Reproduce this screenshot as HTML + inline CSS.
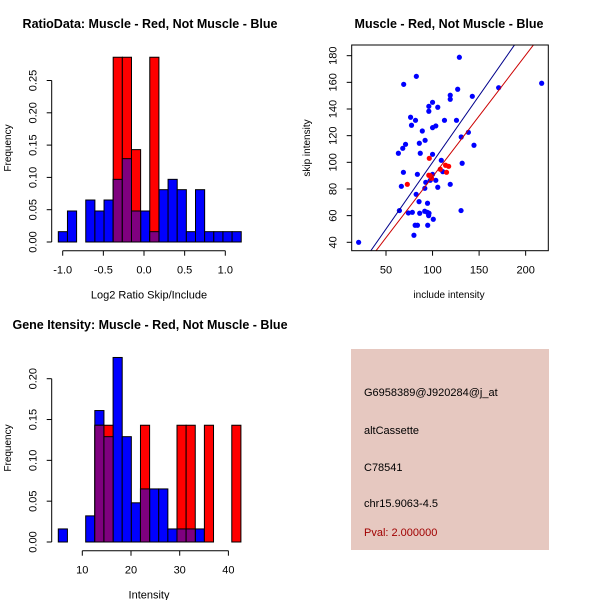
<!DOCTYPE html>
<html><head><meta charset="utf-8"><style>
body{margin:0;background:#fff}
svg{display:block;font-family:"Liberation Sans",sans-serif}
</style></head><body>
<svg id="chart" width="600" height="600" viewBox="0 0 600 600">
<rect x="0" y="0" width="600" height="600" fill="#fff"/>
<text x="150" y="28" text-anchor="middle" font-size="12.5" font-weight="bold">RatioData: Muscle - Red, Not Muscle - Blue</text>
<text x="449" y="28" text-anchor="middle" font-size="12.5" font-weight="bold">Muscle - Red, Not Muscle - Blue</text>
<text x="150" y="329" text-anchor="middle" font-size="12.5" font-weight="bold">Gene Itensity: Muscle - Red, Not Muscle - Blue</text>
<g id="p1"></g>
<g id="p2"></g>
<g id="p3"></g>
<g>
<rect x="351" y="349" width="198" height="201" fill="#e6c8c0"/>
<text x="364" y="396" font-size="11">G6958389@J920284@j_at</text>
<text x="364" y="434" font-size="11">altCassette</text>
<text x="364" y="471" font-size="11">C78541</text>
<text x="364" y="507" font-size="11">chr15.9063-4.5</text>
<text x="364" y="536" font-size="11" fill="#a00000">Pval: 2.000000</text>
</g>
</svg>
<script>
// Ratio histogram data
const ratioBinStart = -1.054;
const ratioBinWidth = 0.1125;
const ratioBlue = [0.016,0.048,0,0.065,0.048,0.065,0.097,0.129,0.048,0.048,0.016,0.081,0.097,0.081,0.016,0.081,0.016,0.016,0.016,0.016];
const ratioRed  = [0,0,0,0,0,0,0.286,0.286,0.143,0,0.286,0,0,0,0,0,0,0,0,0];
const ratioXTicks = [-1.0,-0.5,0.0,0.5,1.0];
const ratioXLabels = ["-1.0","-0.5","0.0","0.5","1.0"];
const ratioYTicks = [0,0.05,0.10,0.15,0.20,0.25];
const ratioYLabels = ["0.00","0.05","0.10","0.15","0.20","0.25"];
// Intensity histogram data
const intBinStart = 5.07;
const intBinWidth = 1.875;
const intBlue = [0.016,0,0,0.032,0.161,0.129,0.226,0.129,0.048,0.065,0.065,0.065,0.016,0.016,0.016,0.016,0,0,0,0];
const intRed  = [0,0,0,0,0.143,0.143,0,0,0,0.143,0,0,0,0.143,0.143,0,0.143,0,0,0.143];
const intXTicks = [10,20,30,40];
const intXLabels = ["10","20","30","40"];
const intYTicks = [0,0.05,0.10,0.15,0.20];
const intYLabels = ["0.00","0.05","0.10","0.15","0.20"];
// Scatter data
const blueX = [20.6,82.6,69,128.8,217.2,171,127,142.7,119,119,96,100,105.6,96,76.4,81.7,112.8,125.7,77.4,103.5,100,89,130.8,138.5,92,85.8,71,68,144.5,63.3,86.8,100,109.4,131.8,68.7,83.7,100,111,97.5,103.5,92.7,105.6,66.5,119,91.7,82.4,85.5,94.6,64.4,74,78.3,86.2,91.6,94.4,96.2,95.8,100.8,130.6,81.3,83.8,94.8,80];
const blueY = [40,164.5,158.5,178.8,159.3,156,154.8,149.5,150.3,147.3,142,145,141.3,138.3,133.8,131.5,131.5,131.5,127.8,127.3,126,123.5,119,122.5,116.5,114.3,113.5,110.5,112.8,106.8,106.8,106,101.5,99.3,92.5,91,91,93,86.5,86.5,85,81.3,82,83.5,80.5,76,70.5,69.3,63.8,62,62.5,61.8,63.3,62.5,61.8,60,57.3,63.8,52.8,52.8,52.8,45.3];
const redX = [72.9,96.5,96,99,108.3,114,117.3,115,97.5];
const redY = [83.5,103,90.3,88,94.8,97.8,97,92.5,90];
const blueFit = [0.0, 1.0];   // intercept, slope
const redFit = [-2.2, 0.913];
const scXTicks = [50,100,150,200];
const scYTicks = [40,60,80,100,120,140,160,180];

const NS="http://www.w3.org/2000/svg";
function mk(parent,tag,attrs){const e=document.createElementNS(NS,tag);for(const k in attrs)e.setAttribute(k,attrs[k]);parent.appendChild(e);return e;}

function hist(g,o){
  const sx=v=>o.x0+(v-o.xv0)*o.xs, sy=v=>o.y0-v*o.ys;
  for(let i=0;i<o.blue.length;i++){
    const l=o.start+i*o.w, r=l+o.w;
    const b=o.blue[i];
    if(b>0){const e=mk(g,'rect',{x:sx(l),y:sy(b),width:sx(r)-sx(l),height:sy(0)-sy(b),fill:'#0000ff',stroke:'#000','stroke-width':1});
      
      }
  }
  for(let i=0;i<o.red.length;i++){
    const l=o.start+i*o.w, r=l+o.w;
    const b=o.blue[i], rd=o.red[i];
    if(rd>0){const e=mk(g,'rect',{x:sx(l),y:sy(rd),width:sx(r)-sx(l),height:sy(0)-sy(rd),fill:'#ff0000',stroke:'#000','stroke-width':1});
      
      
      const m=Math.min(b,rd);
      if(m>0){const p=mk(g,'rect',{x:sx(l),y:sy(m),width:sx(r)-sx(l),height:sy(0)-sy(m),fill:'#7f007f',stroke:'#000','stroke-width':1});
        
        }
    }
  }
  const xa=mk(g,'g',{});
  
  
  mk(xa,'line',{x1:sx(o.xt[0]),x2:sx(o.xt[o.xt.length-1]),y1:o.axY,y2:o.axY,stroke:'#000'});
  o.xt.forEach((t,i)=>{mk(xa,'line',{x1:sx(t),x2:sx(t),y1:o.axY,y2:o.axY+5,stroke:'#000'});
    const tx=mk(xa,'text',{x:sx(t),y:o.axY+23,'text-anchor':'middle','font-size':11});tx.textContent=o.xl[i];});
  const xt=mk(g,'text',{x:o.xTitleX,y:o.axY+48,'text-anchor':'middle','font-size':11});
  
  
  xt.textContent=o.xTitle;
  const ya=mk(g,'g',{});
  
  
  mk(ya,'line',{x1:o.axX,x2:o.axX,y1:sy(o.yt[0]),y2:sy(o.yt[o.yt.length-1]),stroke:'#000'});
  o.yt.forEach((t,i)=>{mk(ya,'line',{x1:o.axX-5,x2:o.axX,y1:sy(t),y2:sy(t),stroke:'#000'});
    const tx=mk(ya,'text',{x:o.axX-15,y:sy(t),'text-anchor':'middle','font-size':11,transform:`rotate(-90 ${o.axX-15} ${sy(t)})`});tx.textContent=o.yl[i];});
  const yt=mk(g,'text',{x:11,y:o.yTitleY,'text-anchor':'middle','font-size':10,transform:`rotate(-90 11 ${o.yTitleY})`});
  
  
  yt.textContent='Frequency';
}
hist(document.getElementById('p1'),{blue:ratioBlue,red:ratioRed,start:ratioBinStart,w:ratioBinWidth,
  x0:144,xv0:0,xs:81.3,y0:242,ys:646,xt:ratioXTicks,xl:ratioXLabels,yt:ratioYTicks,yl:ratioYLabels,
  axY:250.7,axX:51.7,xTitle:'Log2 Ratio Skip/Include',xTitleX:149,yTitleY:148});
hist(document.getElementById('p3'),{blue:intBlue,red:intRed,start:intBinStart,w:intBinWidth,
  x0:82.3,xv0:10,xs:4.87,y0:542,ys:816.5,xt:intXTicks,xl:intXLabels,yt:intYTicks,yl:intYLabels,
  axY:550.7,axX:51.7,xTitle:'Intensity',xTitleX:149,yTitleY:448});

(function(){
  const g=document.getElementById('p2');
  const sx=v=>386+(v-50)*0.931, sy=v=>242.3-(v-40)*1.333;
  const L=351.7,R=548.3,T=45,B=250.7;
  mk(g,'defs',{}).innerHTML='<clipPath id="clipS"><rect x="351.7" y="45" width="196.6" height="205.7"/></clipPath>';
  const pts=mk(g,'g',{'clip-path':'url(#clipS)'});
  blueX.forEach((x,i)=>{const c=mk(pts,'circle',{cx:sx(x),cy:sy(blueY[i]),r:2.6,fill:'#0000ff'});
    
    });
  redX.forEach((x,i)=>{const c=mk(pts,'circle',{cx:sx(x),cy:sy(redY[i]),r:2.6,fill:'#ff0000'});
    
    });
  const xa=0,xb=250;
  const bl=mk(pts,'line',{x1:sx(xa),y1:sy(blueFit[0]+blueFit[1]*xa),x2:sx(xb),y2:sy(blueFit[0]+blueFit[1]*xb),stroke:'#00008b','stroke-width':1});
  
  
  const rl=mk(pts,'line',{x1:sx(xa),y1:sy(redFit[0]+redFit[1]*xa),x2:sx(xb),y2:sy(redFit[0]+redFit[1]*xb),stroke:'#cc0000','stroke-width':1});
  
  
  const box=mk(g,'rect',{x:L,y:T,width:R-L,height:B-T,fill:'none',stroke:'#000'});
  
  
  const xa2=mk(g,'g',{});
  
  
  scXTicks.forEach(t=>{mk(xa2,'line',{x1:sx(t),x2:sx(t),y1:B,y2:B+5,stroke:'#000'});
    const tx=mk(xa2,'text',{x:sx(t),y:B+23,'text-anchor':'middle','font-size':11});tx.textContent=t;});
  const xt=mk(g,'text',{x:449,y:298,'text-anchor':'middle','font-size':10});
  
  
  xt.textContent='include intensity';
  const ya=mk(g,'g',{});
  
  
  scYTicks.forEach(t=>{mk(ya,'line',{x1:L-5,x2:L,y1:sy(t),y2:sy(t),stroke:'#000'});
    const tx=mk(ya,'text',{x:L-15,y:sy(t),'text-anchor':'middle','font-size':11,transform:`rotate(-90 ${L-15} ${sy(t)})`});tx.textContent=t;});
  const yt=mk(g,'text',{x:310,y:148,'text-anchor':'middle','font-size':10,transform:'rotate(-90 310 148)'});
  
  
  yt.textContent='skip intensity';
})();
</script>
</body></html>
